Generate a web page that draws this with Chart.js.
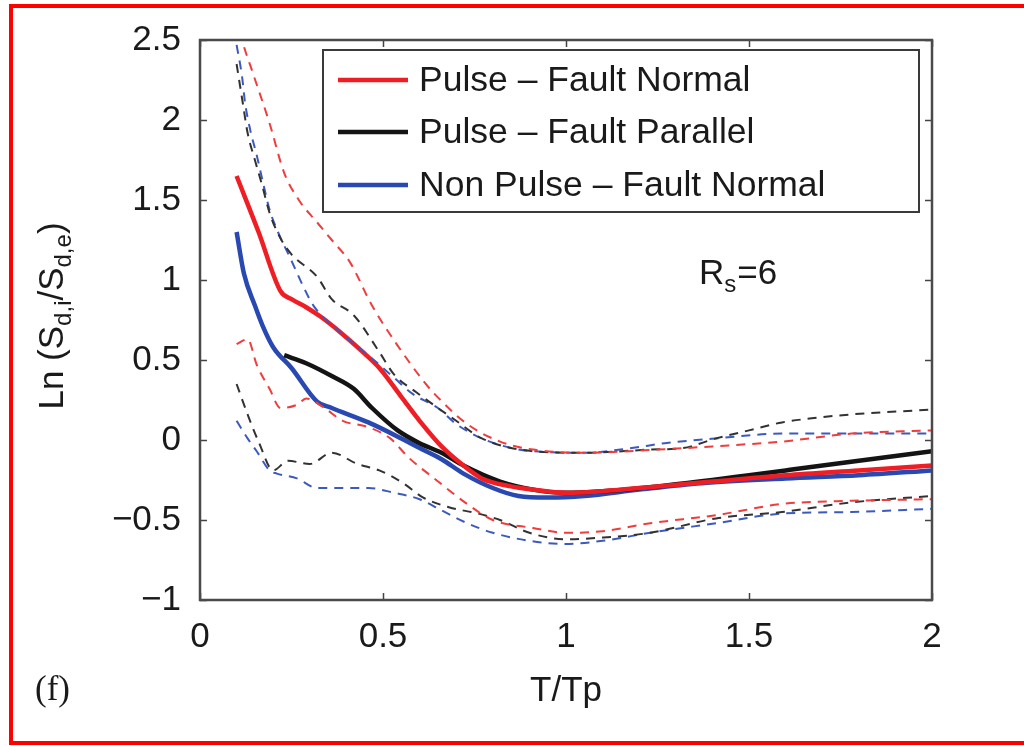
<!DOCTYPE html>
<html>
<head>
<meta charset="utf-8">
<script src="https://cdn.jsdelivr.net/npm/chart.js@4.4.0/dist/chart.umd.min.js"></script>
<style>
  html, body { margin: 0; padding: 0; background: #fff; }
  #wrap { width: 1024px; height: 746px; }
</style>
</head>
<body>
<div id="wrap"><canvas id="chart" width="1024" height="746"></canvas></div>
<script>
'use strict';

// legend entries
const seriesNames = ['Pulse \u2013 Fault Normal', 'Pulse \u2013 Fault Parallel', 'Non Pulse \u2013 Fault Normal'];
const seriesColors = ['rgb(238,30,36)', 'rgb(20,20,20)', 'rgb(40,72,178)'];
const dashColors = ['rgb(240,60,60)', 'rgb(50,50,50)', 'rgb(60,90,190)'];

// ticks
const xTicks = [0, 0.5, 1, 1.5, 2];
const yTicks = [-1, -0.5, 0, 0.5, 1, 1.5, 2, 2.5];

// mean curves [T/Tp, Ln(Sd,i/Sd,e)]
const pfnMean = [[0.10,1.65],[0.16,1.30],[0.22,0.93],[0.25,0.88],[0.29,0.83],[0.33,0.77],[0.38,0.68],
  [0.44,0.56],[0.49,0.45],[0.55,0.27],[0.60,0.12],[0.66,-0.04],[0.72,-0.16],[0.77,-0.24],[0.85,-0.29],
  [0.91,-0.31],[1.00,-0.33],[1.10,-0.32],[1.25,-0.29],[1.40,-0.26],[1.60,-0.22],[1.80,-0.19],[2.00,-0.16]];
const pfpMean = [[0.23,0.53],[0.29,0.48],[0.36,0.40],[0.42,0.32],[0.47,0.20],[0.54,0.06],[0.60,-0.02],
  [0.66,-0.08],[0.72,-0.16],[0.82,-0.26],[0.91,-0.31],[1.00,-0.33],[1.10,-0.32],[1.25,-0.29],[1.40,-0.25],
  [1.50,-0.22],[1.60,-0.19],[1.80,-0.13],[2.00,-0.07]];
const npfnMean = [[0.10,1.30],[0.12,1.04],[0.15,0.84],[0.17,0.72],[0.20,0.58],[0.25,0.45],[0.32,0.24],[0.36,0.20],
  [0.46,0.11],[0.55,0.01],[0.60,-0.05],[0.66,-0.12],[0.72,-0.21],[0.80,-0.30],[0.87,-0.35],[0.95,-0.36],
  [1.05,-0.35],[1.20,-0.31],[1.37,-0.27],[1.60,-0.24],[1.80,-0.22],[2.00,-0.19]];

// +/- one sigma bands (dashed)
const pfnHi = [[0.10,2.65],[0.115,2.50],[0.145,2.29],[0.19,1.98],[0.23,1.67],[0.27,1.50],[0.32,1.36],
  [0.36,1.25],[0.41,1.11],[0.47,0.84],[0.54,0.59],[0.61,0.37],[0.64,0.29],[0.73,0.10],[0.82,-0.01],
  [0.91,-0.06],[1.05,-0.08],[1.25,-0.06],[1.40,-0.04],[1.59,-0.01],[1.78,0.04],[2.00,0.06]];
const pfnLo = [[0.10,0.60],[0.13,0.63],[0.155,0.47],[0.19,0.32],[0.22,0.20],[0.265,0.22],[0.29,0.26],
  [0.34,0.20],[0.39,0.12],[0.46,0.08],[0.52,0.01],[0.57,-0.11],[0.64,-0.24],[0.73,-0.40],[0.80,-0.50],
  [0.91,-0.55],[1.00,-0.58],[1.10,-0.57],[1.23,-0.52],[1.41,-0.47],[1.59,-0.40],[1.78,-0.38],[2.00,-0.37]];
const pfpHi = [[0.10,2.35],[0.118,2.09],[0.13,1.92],[0.15,1.75],[0.17,1.59],[0.19,1.42],[0.22,1.26],
  [0.25,1.16],[0.32,1.02],[0.36,0.88],[0.42,0.78],[0.49,0.55],[0.53,0.41],[0.59,0.30],[0.70,0.12],
  [0.77,0.01],[0.91,-0.07],[1.05,-0.08],[1.23,-0.06],[1.32,-0.05],[1.41,0.01],[1.50,0.06],[1.59,0.11],
  [1.69,0.14],[1.78,0.16],[2.00,0.19]];
const pfpLo = [[0.10,0.35],[0.13,0.16],[0.16,-0.01],[0.20,-0.19],[0.24,-0.13],[0.30,-0.15],[0.36,-0.08],
  [0.43,-0.15],[0.49,-0.19],[0.555,-0.27],[0.61,-0.36],[0.68,-0.42],[0.76,-0.46],[0.82,-0.50],[0.90,-0.58],
  [1.00,-0.62],[1.10,-0.61],[1.23,-0.58],[1.41,-0.49],[1.59,-0.45],[1.78,-0.39],[2.00,-0.35]];
const npfnHi = [[0.10,2.47],[0.115,2.27],[0.123,2.11],[0.137,1.94],[0.155,1.78],[0.172,1.61],[0.19,1.44],
  [0.213,1.30],[0.246,1.14],[0.28,0.97],[0.31,0.84],[0.38,0.68],[0.47,0.51],[0.53,0.39],[0.58,0.29],
  [0.65,0.20],[0.70,0.10],[0.77,0.01],[0.85,-0.05],[0.91,-0.07],[1.05,-0.08],[1.18,-0.05],[1.27,-0.02],
  [1.41,0.01],[1.59,0.04],[1.78,0.04],[2.00,0.04]];
const npfnLo = [[0.10,0.12],[0.13,0.01],[0.155,-0.07],[0.19,-0.19],[0.21,-0.21],[0.265,-0.24],[0.32,-0.30],
  [0.38,-0.30],[0.46,-0.30],[0.53,-0.33],[0.60,-0.37],[0.66,-0.44],[0.73,-0.52],[0.80,-0.58],[0.90,-0.63],
  [1.00,-0.65],[1.10,-0.63],[1.23,-0.58],[1.41,-0.52],[1.59,-0.46],[1.78,-0.45],[2.00,-0.43]];

const FONT = '"Liberation Sans", Arial, Helvetica, sans-serif';
const TEXT = '#1a1a1a';

function pts(arr) {
  return arr.map(p => ({ x: p[0], y: p[1] }));
}

function dashed(arr, i) {
  return {
    label: '', data: pts(arr), borderColor: dashColors[i], borderWidth: 2,
    borderDash: [9, 7], pointRadius: 0, fill: false, cubicInterpolationMode: 'monotone'
  };
}

function solid(arr, i) {
  return {
    label: seriesNames[i], data: pts(arr), borderColor: seriesColors[i], borderWidth: 4.5,
    pointRadius: 0, fill: false, cubicInterpolationMode: 'monotone'
  };
}

const datasets = [
  dashed(pfnHi, 0), dashed(pfnLo, 0),
  dashed(pfpHi, 1), dashed(pfpLo, 1),
  dashed(npfnHi, 2), dashed(npfnLo, 2),
  solid(pfnMean, 0), solid(pfpMean, 1), solid(npfnMean, 2)
];

// red page frame + white background
const pageFrame = {
  id: 'pageFrame',
  beforeDraw(chart) {
    let ctx = chart.ctx;
    ctx.save();
    ctx.fillStyle = '#fff';
    ctx.fillRect(0, 0, chart.width, chart.height);
    ctx.strokeStyle = '#ff0000';
    ctx.lineWidth = 4;
    ctx.strokeRect(11, 6, 1040, 737);
    ctx.restore();
  }
};

// matlab style box, inward ticks, legend and labels
const decorations = {
  id: 'decorations',
  afterDatasetsDraw(chart) {
    let ctx = chart.ctx;
    let a = chart.chartArea;
    let xs = chart.scales.x, ys = chart.scales.y;
    let tl = 7;
    ctx.save();

    // ticks
    ctx.strokeStyle = '#444';
    ctx.lineWidth = 1.5;
    ctx.beginPath();
    xTicks.forEach(v => {
      let px = Math.round(xs.getPixelForValue(v)) + 0.5;
      ctx.moveTo(px, a.bottom); ctx.lineTo(px, a.bottom - tl);
      ctx.moveTo(px, a.top); ctx.lineTo(px, a.top + tl);
    });
    yTicks.forEach(v => {
      let py = Math.round(ys.getPixelForValue(v)) + 0.5;
      ctx.moveTo(a.left, py); ctx.lineTo(a.left + tl, py);
      ctx.moveTo(a.right, py); ctx.lineTo(a.right - tl, py);
    });
    ctx.stroke();

    // box
    ctx.lineWidth = 2.5;
    ctx.strokeStyle = '#4a4a4a';
    ctx.strokeRect(a.left, a.top, a.right - a.left, a.bottom - a.top);

    // legend
    let lx = 323, ly = 50, lw = 596, lh = 162;
    ctx.fillStyle = '#fff';
    ctx.fillRect(lx, ly, lw, lh);
    ctx.lineWidth = 2;
    ctx.strokeStyle = '#3a3a3a';
    ctx.strokeRect(lx, ly, lw, lh);
    let rows = [80, 132, 185];
    ctx.font = '35.5px ' + FONT;
    ctx.textBaseline = 'middle';
    ctx.textAlign = 'left';
    seriesNames.forEach((name, i) => {
      ctx.strokeStyle = seriesColors[i];
      ctx.lineWidth = 4.5;
      ctx.beginPath();
      ctx.moveTo(338, rows[i]);
      ctx.lineTo(408, rows[i]);
      ctx.stroke();
      ctx.fillStyle = TEXT;
      ctx.fillText(name, 419, rows[i] + 1);
    });

    // R_s = 6
    ctx.textBaseline = 'alphabetic';
    ctx.font = '35px ' + FONT;
    ctx.fillText('R', 699, 284);
    let w = ctx.measureText('R').width;
    ctx.font = '24px ' + FONT;
    ctx.fillText('s', 699 + w, 292);
    let w2 = ctx.measureText('s').width;
    ctx.font = '35px ' + FONT;
    ctx.fillText('=6', 699 + w + w2 + 1, 284);

    // x title
    ctx.textAlign = 'center';
    ctx.fillText('T/Tp', 566, 701);

    // panel tag
    ctx.textAlign = 'left';
    ctx.font = '35px "Liberation Serif", "Times New Roman", serif';
    ctx.fillText('(f)', 35, 700);

    // y title with subscripts
    let parts = [
      ['Ln (S', 35, 0], ['d,i', 24, 8], ['/S', 35, 0], ['d,e', 24, 8], [')', 35, 0]
    ];
    let total = 0;
    parts.forEach(p => { ctx.font = p[1] + 'px ' + FONT; total += ctx.measureText(p[0]).width; });
    ctx.translate(63, 316);
    ctx.rotate(-Math.PI / 2);
    let cx = -total / 2;
    ctx.textAlign = 'left';
    parts.forEach(p => {
      ctx.font = p[1] + 'px ' + FONT;
      ctx.fillText(p[0], cx, p[2]);
      cx += ctx.measureText(p[0]).width;
    });

    ctx.restore();
  }
};

let canvas = document.querySelector('#chart');
let chart = new Chart(canvas, {
  type: 'line',
  data: { datasets: datasets },
  options: {
    responsive: false,
    animation: false,
    devicePixelRatio: 1,
    layout: { padding: { top: 37, right: 92, left: 0, bottom: 0 } },
    plugins: { legend: { display: false }, tooltip: { enabled: false } },
    scales: {
      x: {
        type: 'linear', min: 0, max: 2,
        grid: { display: false, drawTicks: false },
        border: { display: false },
        afterFit(s) { s.height = 146; },
        afterBuildTicks(s) { s.ticks = xTicks.map(v => ({ value: v })); },
        ticks: {
          padding: 16, color: TEXT, font: { size: 35, family: FONT },
          maxRotation: 0, autoSkip: false,
          callback: v => String(v)
        }
      },
      y: {
        type: 'linear', min: -1, max: 2.5,
        grid: { display: false, drawTicks: false },
        border: { display: false },
        afterFit(s) { s.width = 200; },
        afterBuildTicks(s) { s.ticks = yTicks.map(v => ({ value: v })); },
        ticks: {
          padding: 19, color: TEXT, font: { size: 35, family: FONT },
          autoSkip: false,
          callback: v => String(v).replace('-', '\u2212')
        }
      }
    }
  },
  plugins: [pageFrame, decorations]
});
</script>
</body>
</html>
